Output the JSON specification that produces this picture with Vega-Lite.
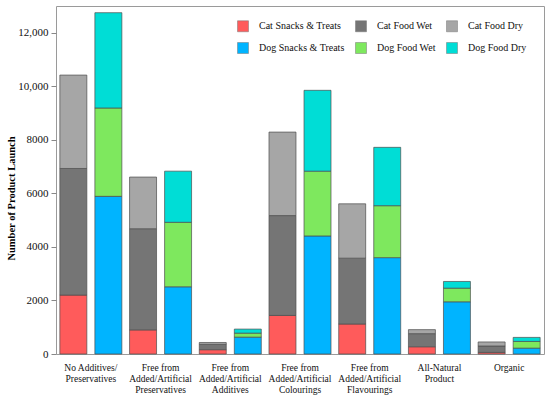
{
  "$schema": "https://vega.github.io/schema/vega-lite/v6.json",
  "width": 488,
  "height": 348,
  "autosize": {"type": "none"},
  "padding": {"left": 56, "top": 6, "right": 6, "bottom": 45},
  "background": "white",
  "config": {
    "view": {"stroke": "#9a9a9a", "strokeWidth": 1},
    "font": "Liberation Serif"
  },
  "data": {
    "values": [
      {"category": "No Additives/|Preservatives", "animal": "Cat", "type": "Snacks & Treats", "series": "Cat Snacks & Treats", "value": 2200},
      {"category": "No Additives/|Preservatives", "animal": "Cat", "type": "Food Wet", "series": "Cat Food Wet", "value": 4730},
      {"category": "No Additives/|Preservatives", "animal": "Cat", "type": "Food Dry", "series": "Cat Food Dry", "value": 3490},
      {"category": "No Additives/|Preservatives", "animal": "Dog", "type": "Snacks & Treats", "series": "Dog Snacks & Treats", "value": 5890},
      {"category": "No Additives/|Preservatives", "animal": "Dog", "type": "Food Wet", "series": "Dog Food Wet", "value": 3300},
      {"category": "No Additives/|Preservatives", "animal": "Dog", "type": "Food Dry", "series": "Dog Food Dry", "value": 3560},

      {"category": "Free from|Added/Artificial|Preservatives", "animal": "Cat", "type": "Snacks & Treats", "series": "Cat Snacks & Treats", "value": 900},
      {"category": "Free from|Added/Artificial|Preservatives", "animal": "Cat", "type": "Food Wet", "series": "Cat Food Wet", "value": 3780},
      {"category": "Free from|Added/Artificial|Preservatives", "animal": "Cat", "type": "Food Dry", "series": "Cat Food Dry", "value": 1930},
      {"category": "Free from|Added/Artificial|Preservatives", "animal": "Dog", "type": "Snacks & Treats", "series": "Dog Snacks & Treats", "value": 2510},
      {"category": "Free from|Added/Artificial|Preservatives", "animal": "Dog", "type": "Food Wet", "series": "Dog Food Wet", "value": 2410},
      {"category": "Free from|Added/Artificial|Preservatives", "animal": "Dog", "type": "Food Dry", "series": "Dog Food Dry", "value": 1910},

      {"category": "Free from|Added/Artificial|Additives", "animal": "Cat", "type": "Snacks & Treats", "series": "Cat Snacks & Treats", "value": 160},
      {"category": "Free from|Added/Artificial|Additives", "animal": "Cat", "type": "Food Wet", "series": "Cat Food Wet", "value": 200},
      {"category": "Free from|Added/Artificial|Additives", "animal": "Cat", "type": "Food Dry", "series": "Cat Food Dry", "value": 70},
      {"category": "Free from|Added/Artificial|Additives", "animal": "Dog", "type": "Snacks & Treats", "series": "Dog Snacks & Treats", "value": 630},
      {"category": "Free from|Added/Artificial|Additives", "animal": "Dog", "type": "Food Wet", "series": "Dog Food Wet", "value": 150},
      {"category": "Free from|Added/Artificial|Additives", "animal": "Dog", "type": "Food Dry", "series": "Dog Food Dry", "value": 150},

      {"category": "Free from|Added/Artificial|Colourings", "animal": "Cat", "type": "Snacks & Treats", "series": "Cat Snacks & Treats", "value": 1440},
      {"category": "Free from|Added/Artificial|Colourings", "animal": "Cat", "type": "Food Wet", "series": "Cat Food Wet", "value": 3730},
      {"category": "Free from|Added/Artificial|Colourings", "animal": "Cat", "type": "Food Dry", "series": "Cat Food Dry", "value": 3120},
      {"category": "Free from|Added/Artificial|Colourings", "animal": "Dog", "type": "Snacks & Treats", "series": "Dog Snacks & Treats", "value": 4410},
      {"category": "Free from|Added/Artificial|Colourings", "animal": "Dog", "type": "Food Wet", "series": "Dog Food Wet", "value": 2420},
      {"category": "Free from|Added/Artificial|Colourings", "animal": "Dog", "type": "Food Dry", "series": "Dog Food Dry", "value": 3020},

      {"category": "Free from|Added/Artificial|Flavourings", "animal": "Cat", "type": "Snacks & Treats", "series": "Cat Snacks & Treats", "value": 1120},
      {"category": "Free from|Added/Artificial|Flavourings", "animal": "Cat", "type": "Food Wet", "series": "Cat Food Wet", "value": 2460},
      {"category": "Free from|Added/Artificial|Flavourings", "animal": "Cat", "type": "Food Dry", "series": "Cat Food Dry", "value": 2030},
      {"category": "Free from|Added/Artificial|Flavourings", "animal": "Dog", "type": "Snacks & Treats", "series": "Dog Snacks & Treats", "value": 3600},
      {"category": "Free from|Added/Artificial|Flavourings", "animal": "Dog", "type": "Food Wet", "series": "Dog Food Wet", "value": 1940},
      {"category": "Free from|Added/Artificial|Flavourings", "animal": "Dog", "type": "Food Dry", "series": "Dog Food Dry", "value": 2180},

      {"category": "All-Natural|Product", "animal": "Cat", "type": "Snacks & Treats", "series": "Cat Snacks & Treats", "value": 270},
      {"category": "All-Natural|Product", "animal": "Cat", "type": "Food Wet", "series": "Cat Food Wet", "value": 490},
      {"category": "All-Natural|Product", "animal": "Cat", "type": "Food Dry", "series": "Cat Food Dry", "value": 150},
      {"category": "All-Natural|Product", "animal": "Dog", "type": "Snacks & Treats", "series": "Dog Snacks & Treats", "value": 1950},
      {"category": "All-Natural|Product", "animal": "Dog", "type": "Food Wet", "series": "Dog Food Wet", "value": 510},
      {"category": "All-Natural|Product", "animal": "Dog", "type": "Food Dry", "series": "Dog Food Dry", "value": 250},

      {"category": "Organic", "animal": "Cat", "type": "Snacks & Treats", "series": "Cat Snacks & Treats", "value": 60},
      {"category": "Organic", "animal": "Cat", "type": "Food Wet", "series": "Cat Food Wet", "value": 240},
      {"category": "Organic", "animal": "Cat", "type": "Food Dry", "series": "Cat Food Dry", "value": 150},
      {"category": "Organic", "animal": "Dog", "type": "Snacks & Treats", "series": "Dog Snacks & Treats", "value": 220},
      {"category": "Organic", "animal": "Dog", "type": "Food Wet", "series": "Dog Food Wet", "value": 250},
      {"category": "Organic", "animal": "Dog", "type": "Food Dry", "series": "Dog Food Dry", "value": 150}
    ]
  },
  "mark": {"type": "bar", "stroke": "#4d4d4d", "strokeWidth": 0.7},
  "encoding": {
    "x": {
      "field": "category",
      "type": "nominal",
      "sort": null,
      "scale": {"paddingInner": 0, "paddingOuter": 0},
      "axis": {
        "title": null,
        "labelAngle": 0,
        "labelExpr": "split(datum.label, '|')",
        "labelFont": "Liberation Serif",
        "labelFontSize": 9.5,
        "labelLineHeight": 11,
        "labelColor": "#111",
        "labelBaseline": "top",
        "labelPadding": 8,
        "ticks": false,
        "domain": false,
        "labelLimit": 200
      }
    },
    "xOffset": {
      "field": "animal",
      "type": "nominal",
      "scale": {"paddingInner": 0.23, "paddingOuter": 0.11}
    },
    "y": {
      "field": "value",
      "type": "quantitative",
      "stack": "zero",
      "scale": {"domain": [0, 13000], "nice": false},
      "axis": {
        "title": "Number of Product Launch",
        "titleFont": "Liberation Serif",
        "titleFontSize": 10.5,
        "titleFontWeight": "bold",
        "titleColor": "#000",
        "titleX": -45,
        "titleY": 192,
        "titleBaseline": "middle",
        "titleAngle": -90,
        "values": [0, 2000, 4000, 6000, 8000, 10000, 12000],
        "labelExpr": "datum.value >= 10000 ? format(datum.value, ',') : format(datum.value, 'd')",
        "labelFont": "Liberation Serif",
        "labelFontSize": 11,
        "labelColor": "#111",
        "labelPadding": 3,
        "tickSize": 5,
        "tickColor": "#888",
        "domain": false,
        "grid": false
      }
    },
    "color": {
      "field": "series",
      "type": "nominal",
      "scale": {
        "domain": ["Cat Snacks & Treats", "Dog Snacks & Treats", "Cat Food Wet", "Dog Food Wet", "Cat Food Dry", "Dog Food Dry"],
        "range": ["#FF5B5B", "#00B4FF", "#757575", "#7EE85E", "#A6A6A6", "#00DDD6"]
      },
      "legend": {
        "title": null,
        "orient": "none",
        "legendX": 181,
        "legendY": 14,
        "columns": 3,
        "symbolType": "square",
        "symbolSize": 121,
        "symbolStrokeColor": "#777",
        "symbolStrokeWidth": 0.5,
        "labelFont": "Liberation Serif",
        "labelFontSize": 10,
        "labelColor": "#111",
        "labelOffset": 10,
        "columnPadding": 9,
        "rowPadding": 8
      }
    },
    "order": {"field": "type", "sort": "descending"}
  }
}
